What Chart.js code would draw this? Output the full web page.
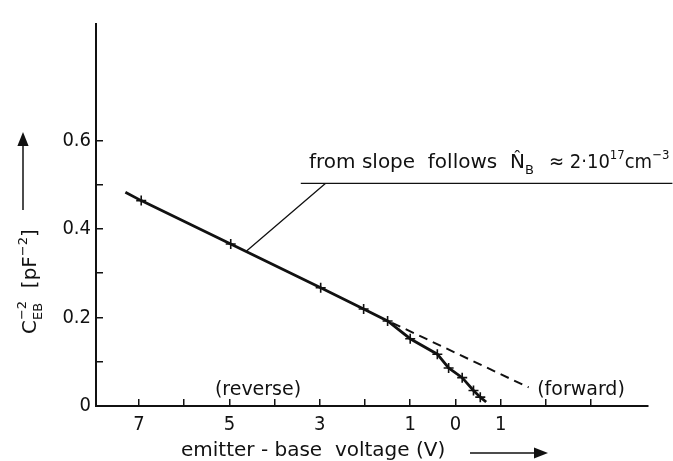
<!DOCTYPE html>
<html>
<head>
<meta charset="utf-8">
<script src="https://cdn.jsdelivr.net/npm/chart.js@4/dist/chart.umd.min.js"></script>
<style>
  html, body { margin: 0; padding: 0; background: #fff; }
  #wrap { width: 673px; height: 461px; }
</style>
</head>
<body>
<div id="wrap"><canvas id="grafico" width="673" height="461"></canvas></div>
<script>
// Measured C_EB^-2 vs emitter-base voltage (reverse bias < 0, forward bias > 0)
const voltage = [-7.3, -6.95, -4.97, -2.98, -2.03, -1.5, -1.0, -0.4, -0.15, 0.15, 0.4, 0.55, 0.68];
const invCapSq = [0.483, 0.464, 0.366, 0.267, 0.219, 0.192, 0.152, 0.117, 0.086, 0.064, 0.035, 0.02, 0.009];
const marked = [0, 1, 1, 1, 1, 1, 1, 1, 1, 1, 1, 1, 0];

// straight line of the reverse branch, continued into forward bias
const fitVoltage = [-1.4, 1.62];
const fitInvCapSq = [0.188, 0.042];

// axis ticks and their labels (voltage magnitude is printed)
const xTicks = [-7, -6, -5, -4, -3, -2, -1, 0, 1, 2, 3];
const xTickLabels = ['7', '', '5', '', '3', '', '1', '0', '1', '', ''];
const yTicks = [0, 0.1, 0.2, 0.3, 0.4, 0.5, 0.6];
const yTickLabels = ['0', '', '0.2', '', '0.4', '', '0.6'];

const NARROW = '"DejaVu Sans Condensed", "Liberation Sans Narrow", "DejaVu Sans", sans-serif';
const FONT = '"DejaVu Sans", sans-serif';
const INK = '#111';

// text with sub/superscripts: parts are [text, kind], kind = n | sub | sup | subsup
function drawRich(ctx, x, y, parts, size, family) {
  const small = Math.round(size * 0.65);
  parts.forEach(([t, kind]) => {
    if (kind === 'subsup') {
      ctx.font = small + 'px ' + family;
      ctx.fillText(t[0], x, y + size * 0.3);
      ctx.fillText(t[1], x, y - size * 0.5);
      x += Math.max(ctx.measureText(t[0]).width, ctx.measureText(t[1]).width);
      return;
    }
    ctx.font = (kind === 'n' ? size : small) + 'px ' + family;
    const dy = kind === 'sub' ? size * 0.3 : kind === 'sup' ? -size * 0.45 : 0;
    ctx.fillText(t, x, y + dy);
    x += ctx.measureText(t).width;
  });
}

function arrow(ctx, x1, y1, x2, y2, head) {
  const a = Math.atan2(y2 - y1, x2 - x1);
  ctx.beginPath();
  ctx.moveTo(x1, y1);
  ctx.lineTo(x2 - Math.cos(a) * head, y2 - Math.sin(a) * head);
  ctx.stroke();
  ctx.beginPath();
  ctx.moveTo(x2, y2);
  ctx.lineTo(x2 - Math.cos(a) * head - Math.sin(a) * head * 0.4, y2 - Math.sin(a) * head + Math.cos(a) * head * 0.4);
  ctx.lineTo(x2 - Math.cos(a) * head + Math.sin(a) * head * 0.4, y2 - Math.sin(a) * head - Math.cos(a) * head * 0.4);
  ctx.closePath();
  ctx.fill();
}

// labels, axis titles and the slope note
const notes = {
  id: 'notes',
  afterDraw(chart) {
    const ctx = chart.ctx;
    const xs = chart.scales.x, ys = chart.scales.y;
    ctx.save();
    ctx.fillStyle = INK;
    ctx.strokeStyle = INK;
    ctx.textBaseline = 'alphabetic';
    ctx.textAlign = 'left';

    // slope note with underline and leader to the line
    ctx.lineWidth = 1.3;
    ctx.beginPath();
    ctx.moveTo(xs.getPixelForValue(-3.42), ys.getPixelForValue(0.503));
    ctx.lineTo(xs.getPixelForValue(4.8), ys.getPixelForValue(0.503));
    ctx.moveTo(xs.getPixelForValue(-2.87), ys.getPixelForValue(0.503));
    ctx.lineTo(xs.getPixelForValue(-4.62), ys.getPixelForValue(0.35));
    ctx.stroke();
    drawRich(ctx, 309, 168, [['from slope  follows  N\u0302', 'n'], ['B', 'sub']], 20, FONT);
    drawRich(ctx, 549, 168, [['\u2248 2\u00b710', 'n'], ['17', 'sup'], ['cm', 'n'], ['\u22123', 'sup']], 20, NARROW);

    // bias direction labels
    ctx.font = '19px ' + FONT;
    ctx.textAlign = 'center';
    ctx.fillText('(reverse)', 258, 395);
    ctx.fillText('(forward)', 581, 395);

    // x title with arrow
    ctx.textAlign = 'left';
    ctx.font = '20px ' + FONT;
    ctx.fillText('emitter - base  voltage (V)', 181, 456);
    ctx.lineWidth = 1.5;
    arrow(ctx, 470, 453, 548, 453, 14);

    // y title, rotated, with arrow
    ctx.save();
    ctx.translate(36, 334);
    ctx.rotate(-Math.PI / 2);
    drawRich(ctx, 0, 0, [['C', 'n'], [['EB', '\u22122'], 'subsup'], ['  [pF', 'n'], ['\u22122', 'sup'], [']', 'n']], 20, FONT);
    ctx.restore();
    arrow(ctx, 23, 210, 23, 132, 14);
    ctx.restore();
  }
};

const ctx = document.getElementById('grafico').getContext('2d');
new Chart(ctx, {
  type: 'scatter',
  data: {
    datasets: [
      {
        data: voltage.map((v, i) => ({ x: v, y: invCapSq[i] })),
        showLine: true,
        borderColor: INK,
        backgroundColor: INK,
        borderWidth: 2.8,
        pointStyle: 'cross',
        pointRadius: marked.map(m => (m ? 5 : 0)),
        pointBorderWidth: 1.6,
        pointBorderColor: INK,
        tension: 0
      },
      {
        data: fitVoltage.map((v, i) => ({ x: v, y: fitInvCapSq[i] })),
        showLine: true,
        borderColor: INK,
        borderWidth: 2,
        borderDash: [9, 6],
        pointRadius: 0,
        tension: 0
      }
    ]
  },
  options: {
    responsive: false,
    animation: false,
    devicePixelRatio: 1,
    layout: { padding: { top: 13, right: 25, left: 0, bottom: 0 } },
    plugins: { legend: { display: false }, tooltip: { enabled: false } },
    scales: {
      x: {
        type: 'linear',
        min: -7.95,
        max: 4.26,
        afterBuildTicks: s => { s.ticks = xTicks.map(v => ({ value: v })); },
        afterFit: s => { s.height = 55; },
        ticks: {
          callback: (v, i) => xTickLabels[i],
          font: { size: 20, family: NARROW },
          color: INK,
          padding: 14,
          maxRotation: 0,
          autoSkip: false
        },
        grid: { drawOnChartArea: false, tickLength: -7, color: INK, lineWidth: 1.5 },
        border: { color: INK, width: 2 }
      },
      y: {
        min: 0,
        max: 0.863,
        afterBuildTicks: s => { s.ticks = yTicks.map(v => ({ value: v })); },
        afterFit: s => { s.width = 96; },
        ticks: {
          callback: (v, i) => yTickLabels[i],
          font: { size: 20, family: NARROW },
          color: INK,
          padding: 12
        },
        grid: { drawOnChartArea: false, tickLength: -7, color: INK, lineWidth: 1.5 },
        border: { color: INK, width: 2 }
      }
    }
  },
  plugins: [notes]
});
</script>
</body>
</html>
